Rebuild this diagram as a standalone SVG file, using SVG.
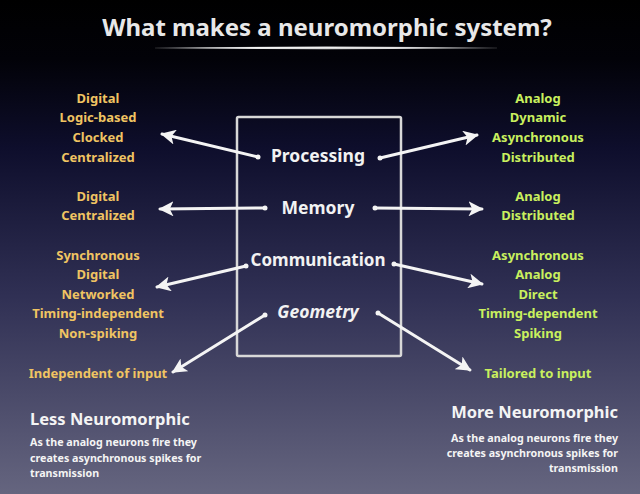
<svg xmlns="http://www.w3.org/2000/svg" width="640" height="494" viewBox="0 0 640 494">
<defs>
<linearGradient id="bg" x1="0" y1="0" x2="0" y2="1">
<stop offset="0" stop-color="#000000"/>
<stop offset="0.12" stop-color="#020208"/>
<stop offset="0.3" stop-color="#0e0e2c"/>
<stop offset="0.6" stop-color="#303054"/>
<stop offset="1" stop-color="#65657f"/>
</linearGradient>
<linearGradient id="ul" x1="0" y1="0" x2="1" y2="0">
<stop offset="0" stop-color="#fff" stop-opacity="0.1"/>
<stop offset="0.3" stop-color="#fff" stop-opacity="0.9"/>
<stop offset="0.7" stop-color="#fff" stop-opacity="0.9"/>
<stop offset="1" stop-color="#fff" stop-opacity="0.1"/>
</linearGradient>
<marker id="ah" viewBox="0 0 10 10" refX="9" refY="5" markerWidth="5" markerHeight="5" orient="auto" markerUnits="strokeWidth">
<path d="M0,0 L10,5 L0,10 L2.5,5 Z" fill="#f4f4f4"/>
</marker>
<style>
text{font-family:"Noto Sans","DejaVu Sans",sans-serif;font-weight:bold;}
.title{font-size:24px;fill:#e8e8e8;text-anchor:middle;}
.lbl{font-size:17.5px;fill:#f2f2f2;text-anchor:middle;}
.lt{font-size:13px;fill:#f0c462;text-anchor:middle;}
.rt{font-size:13px;fill:#c9f05e;text-anchor:middle;}
.hd{font-size:16.5px;fill:#f4f4f4;}
.sub{font-size:10.7px;fill:#f4f4f4;}
.conn{stroke:#f4f4f4;stroke-width:3;fill:none;stroke-linecap:round;marker-end:url(#ah);}
.dot{fill:#f4f4f4;}
</style>
</defs>
<rect width="640" height="494" fill="url(#bg)"/>
<g id="title">
<text class="title" x="327" y="36">What makes a neuromorphic system?</text>
<path d="M155,48 Q326,45.8 497,48 Q326,49.6 155,48 Z" fill="url(#ul)" stroke="url(#ul)" stroke-width="0.8"/>
</g>
<g id="box">
<rect x="237" y="117" width="164" height="239" fill="none" stroke="#d8d8d8" stroke-width="2.5" rx="1.5"/>
</g>
<g id="processing"><text class="lbl" x="318" y="162">Processing</text></g>
<g id="memory"><text class="lbl" x="318" y="214">Memory</text></g>
<g id="communication"><text class="lbl" x="318" y="266" style="font-size:17px">Communication</text></g>
<g id="geometry"><text class="lbl" x="318" y="318" font-style="italic">Geometry</text></g>
<g id="left-processing">
<text class="lt" x="98" y="103">Digital</text>
<text class="lt" x="98" y="122">Logic-based</text>
<text class="lt" x="98" y="142">Clocked</text>
<text class="lt" x="98" y="162">Centralized</text>
</g>
<g id="left-memory">
<text class="lt" x="98" y="201">Digital</text>
<text class="lt" x="98" y="220">Centralized</text>
</g>
<g id="left-communication">
<text class="lt" x="98" y="260">Synchronous</text>
<text class="lt" x="98" y="279">Digital</text>
<text class="lt" x="98" y="299">Networked</text>
<text class="lt" x="98" y="318">Timing-independent</text>
<text class="lt" x="98" y="338">Non-spiking</text>
</g>
<g id="left-geometry"><text class="lt" x="98" y="378">Independent of input</text></g>
<g id="right-processing">
<text class="rt" x="538" y="103">Analog</text>
<text class="rt" x="538" y="122">Dynamic</text>
<text class="rt" x="538" y="142">Asynchronous</text>
<text class="rt" x="538" y="162">Distributed</text>
</g>
<g id="right-memory">
<text class="rt" x="538" y="201">Analog</text>
<text class="rt" x="538" y="220">Distributed</text>
</g>
<g id="right-communication">
<text class="rt" x="538" y="260">Asynchronous</text>
<text class="rt" x="538" y="279">Analog</text>
<text class="rt" x="538" y="299">Direct</text>
<text class="rt" x="538" y="318">Timing-dependent</text>
<text class="rt" x="538" y="338">Spiking</text>
</g>
<g id="right-geometry"><text class="rt" x="538" y="378">Tailored to input</text></g>
<g id="connectors">
<path class="conn" d="M258,157 L162,134"/>
<path class="conn" d="M380,158 L477,135"/>
<path class="conn" d="M265,208 L160,209"/>
<path class="conn" d="M375,208 L482,209"/>
<path class="conn" d="M246,266 L157,287"/>
<path class="conn" d="M394,264 L482,284"/>
<path class="conn" d="M265,315 L173,372"/>
<path class="conn" d="M378,313 L470,370"/>
<circle class="dot" cx="258" cy="157" r="2.5"/>
<circle class="dot" cx="380" cy="158" r="2.5"/>
<circle class="dot" cx="265" cy="208" r="2.5"/>
<circle class="dot" cx="375" cy="208" r="2.5"/>
<circle class="dot" cx="246" cy="266" r="2.5"/>
<circle class="dot" cx="394" cy="264" r="2.5"/>
<circle class="dot" cx="265" cy="315" r="2.5"/>
<circle class="dot" cx="378" cy="313" r="2.5"/>
</g>
<g id="less">
<text class="hd" x="30" y="425">Less Neuromorphic</text>
<text class="sub" x="30" y="446">As the analog neurons fire they</text>
<text class="sub" x="30" y="462">creates asynchronous spikes for</text>
<text class="sub" x="30" y="477">transmission</text>
</g>
<g id="more">
<text class="hd" x="618" y="418" text-anchor="end">More Neuromorphic</text>
<text class="sub" x="618" y="442" text-anchor="end">As the analog neurons fire they</text>
<text class="sub" x="618" y="457" text-anchor="end">creates asynchronous spikes for</text>
<text class="sub" x="618" y="472" text-anchor="end">transmission</text>
</g>
</svg>
